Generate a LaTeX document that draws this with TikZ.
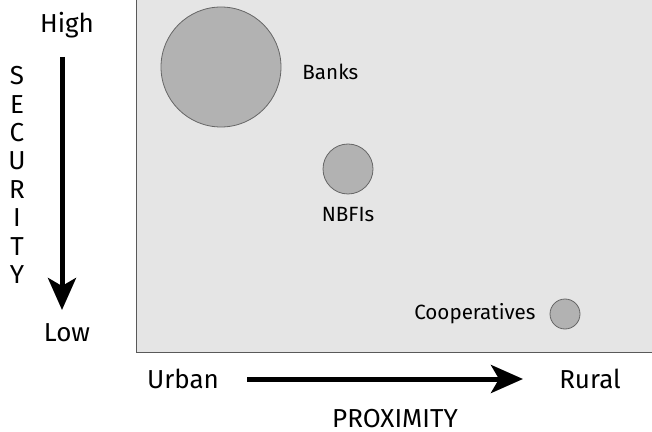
\documentclass[tikz,border=0pt]{standalone}
\usepackage{fontspec}
\setmainfont{Fira Sans}
\usetikzlibrary{arrows.meta,positioning}
\tikzstyle{panel} = [draw=black!65, fill=black!10]
\tikzstyle{bubble} = [circle, draw=black!60, fill=black!30, inner sep=0pt]
\tikzstyle{axis} = [font=\fontsize{13}{14.2}\selectfont]
\tikzstyle{tag} = [font=\fontsize{10.3}{11}\selectfont]
\tikzstyle{bigarrow} = [line width=2.5pt, -{Stealth[length=16pt,width=14pt,inset=4pt]}]

\begin{document}
\begin{tikzpicture}[x=0.5pt, y=-0.5pt]
    \useasboundingbox (0,0) rectangle (652,432);
    \draw[panel] (136,-2) rectangle (654,352);

    \node[bubble, minimum size=60pt] (banks) at (221,67) {};
    \node[bubble, minimum size=25pt] (nbfi) at (348,169) {};
    \node[bubble, minimum size=15pt] (coop) at (565,314) {};
    \node[tag, right=7pt of banks, yshift=-2.5pt] (bankslbl) {Banks};
    \node[tag, below=3pt of nbfi] (nbfilbl) {NBFIs};
    \node[tag, left=3.5pt of coop] (cooplbl) {Cooperatives};

    \node[axis] (high) at (67,25) {High};
    \node[axis] (low) at (67,333) {Low};
    \node[axis, align=center] (security) at (17,175) {S\\E\\C\\U\\R\\I\\T\\Y};
    \node[axis] (urban) at (183,379) {Urban};
    \node[axis] (rural) at (590,379) {Rural};
    \node[axis] (proximity) at (395,419) {PROXIMITY};

    \coordinate (sectop) at (62,57);
    \coordinate (secbot) at (62,310);
    \coordinate (proxleft) at (247,379);
    \coordinate (proxright) at (523,379);
    \draw[bigarrow] (sectop) -- (secbot);
    \draw[bigarrow] (proxleft) -- (proxright);
\end{tikzpicture}
\end{document}
